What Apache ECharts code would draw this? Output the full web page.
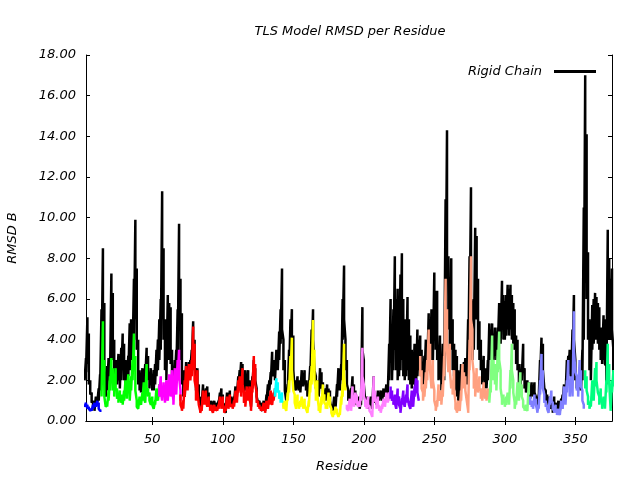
<!DOCTYPE html>
<html>
<head>
<meta charset="utf-8">
<script src="https://cdn.jsdelivr.net/npm/echarts@6/dist/echarts.min.js"></script>
<style>html,body{margin:0;padding:0;background:#fff;}#c{width:640px;height:480px;}</style>
</head>
<body>
<div id="c"></div>
<script>
// Residue axis ticks
const xTicks = [50, 100, 150, 200, 250, 300, 350];

// Rigid chain RMSD per residue (residues 2..377): upper and lower value within each residue
const rigidStart = 2;
const rigidHigh = [
  2.5, 3.1, 5.1, 4.3, 2.0, 1.4, 1.0, 0.9, 1.2, 1.1,
  1.6, 2.3, 5.5, 8.5, 5.8, 2.0, 2.7, 3.1, 2.6, 7.25,
  6.3, 4.0, 3.0, 2.6, 3.3, 3.0, 3.6, 4.3, 3.8, 3.0,
  2.8, 3.2, 4.8, 5.0, 4.5, 7.0, 9.9, 7.5, 4.0, 2.5,
  2.2, 2.6, 2.0, 2.8, 3.6, 3.2, 2.4, 2.6, 2.2, 2.5,
  2.8, 3.5, 4.0, 5.0, 6.0, 11.3, 8.5, 5.0, 4.0, 6.2,
  5.8, 5.6, 3.5, 2.7, 3.0, 3.5, 5.5, 9.7, 7.0, 5.3,
  2.5, 1.8, 2.9, 2.6, 2.9, 3.0, 3.5, 4.9, 4.0, 2.6,
  2.6, 1.8, 1.0, 1.2, 1.8, 1.5, 1.6, 1.7, 1.4, 1.0,
  1.0, 0.8, 1.0, 0.9, 0.8, 1.0, 1.4, 1.6, 1.3, 0.8,
  0.4, 1.4, 1.0, 1.5, 1.2, 1.0, 1.2, 1.7, 1.6, 2.2,
  2.5, 2.9, 2.8, 2.0, 2.5, 2.2, 2.5, 2.0, 1.0, 2.2,
  3.0, 2.6, 1.6, 1.2, 1.0, 0.9, 0.6, 1.0, 0.8, 1.3,
  1.8, 2.0, 2.4, 3.4, 3.0, 2.8, 3.5, 3.2, 4.4, 5.5,
  7.5, 4.0, 3.0, 1.5, 1.8, 3.5, 5.0, 5.5, 4.2, 2.5,
  2.0, 2.2, 2.0, 1.8, 2.5, 2.3, 2.5, 2.0, 1.8, 2.0,
  2.7, 4.5, 5.5, 4.0, 2.2, 2.0, 1.8, 2.6, 2.4, 1.9,
  1.5, 1.6, 1.8, 1.6, 1.5, 1.0, 0.8, 1.2, 1.0, 1.8,
  2.6, 2.2, 2.8, 6.0, 7.65, 4.0, 3.0, 1.5, 1.4, 1.6,
  2.2, 1.8, 1.5, 1.0, 1.2, 0.8, 1.0, 5.6, 3.0, 1.0,
  1.2, 0.8, 1.0, 1.2, 0.9, 2.2, 1.2, 1.0, 1.5, 1.3,
  1.5, 1.4, 1.6, 1.5, 1.8, 1.7, 3.8, 6.0, 4.5, 5.5,
  8.1, 6.0, 6.5, 5.5, 7.2, 8.25, 6.0, 5.0, 4.5, 6.1,
  5.0, 4.2, 3.5, 3.0, 3.8, 2.0, 4.5, 4.0, 4.2, 3.5,
  2.6, 3.2, 4.0, 3.5, 5.3, 5.0, 5.5, 4.8, 7.3, 6.4,
  6.4, 3.5, 4.2, 2.0, 3.8, 3.0, 10.9, 14.3, 8.1, 6.5,
  8.0, 5.0, 3.8, 3.5, 3.2, 2.5, 1.4, 2.8, 2.6, 2.9,
  3.1, 3.0, 5.0, 8.1, 11.5, 5.4, 6.0, 9.5, 9.1, 7.0,
  4.9, 4.0, 3.0, 3.2, 2.6, 2.4, 3.0, 4.8, 4.5, 4.8,
  4.2, 4.6, 4.4, 4.6, 5.8, 5.5, 6.9, 6.2, 5.9, 6.2,
  6.7, 6.5, 6.7, 6.2, 5.8, 5.5, 4.2, 4.0, 2.8, 2.5,
  2.8, 3.8, 2.6, 2.0, 2.0, 1.9, 1.5, 1.9, 1.7, 1.9,
  1.2, 1.0, 1.3, 3.0, 4.1, 3.8, 2.5, 1.5, 1.3, 1.2,
  0.8, 1.0, 0.6, 1.2, 0.9, 0.5, 1.0, 0.7, 1.1, 1.3,
  1.8, 1.6, 3.0, 3.2, 3.5, 3.2, 4.5, 6.2, 3.0, 2.2,
  2.0, 2.4, 2.0, 3.5, 10.5, 17.0, 14.1, 8.3, 5.0, 3.5,
  5.7, 6.0, 6.3, 6.1, 5.8, 5.6, 4.6, 4.1, 5.2, 5.0,
  2.7, 9.4, 8.0, 7.0, 7.5, 3.5
];
const rigidLow = [
  2.0, 2.4, 2.8, 1.8, 1.3, 0.9, 0.6, 0.5, 0.7, 0.9,
  1.0, 1.5, 2.5, 4.0, 2.0, 1.2, 1.5, 2.0, 2.0, 3.0,
  3.0, 2.2, 1.8, 1.8, 2.0, 1.6, 2.0, 2.5, 2.0, 1.8,
  2.0, 2.2, 2.5, 3.0, 3.0, 4.0, 5.0, 3.5, 1.8, 1.5,
  1.4, 1.8, 1.5, 2.0, 2.5, 2.0, 1.6, 1.8, 1.5, 1.5,
  1.8, 2.2, 2.5, 3.0, 3.5, 5.0, 4.0, 2.5, 2.0, 3.0,
  3.0, 2.8, 2.0, 1.5, 2.0, 2.2, 3.0, 4.5, 3.0, 1.8,
  1.2, 1.2, 2.0, 2.0, 2.2, 2.5, 2.8, 3.5, 2.5, 1.5,
  1.5, 1.2, 0.6, 0.8, 1.3, 1.0, 1.2, 1.0, 1.0, 0.7,
  0.8, 0.6, 0.8, 0.7, 0.6, 0.8, 1.0, 0.9, 0.9, 0.6,
  0.4, 1.0, 0.8, 1.0, 0.8, 0.8, 0.9, 1.2, 1.2, 1.7,
  1.8, 2.0, 2.2, 1.4, 1.5, 1.6, 1.5, 1.5, 0.7, 1.6,
  2.4, 2.0, 1.2, 0.9, 0.7, 0.6, 0.5, 0.7, 0.5, 0.9,
  1.2, 1.5, 1.8, 2.5, 2.2, 2.0, 2.5, 2.5, 3.0, 3.8,
  4.5, 2.5, 1.5, 1.0, 1.3, 2.2, 3.5, 4.0, 2.5, 1.5,
  1.5, 1.6, 1.5, 1.4, 1.8, 1.7, 1.8, 1.5, 1.2, 1.5,
  2.0, 3.0, 4.0, 2.5, 1.6, 1.4, 1.2, 1.8, 1.6, 1.5,
  1.1, 1.0, 1.2, 1.1, 1.0, 0.6, 0.5, 0.8, 0.7, 1.2,
  1.8, 1.5, 2.0, 4.0, 5.0, 2.5, 1.8, 1.0, 1.0, 1.1,
  1.6, 1.2, 1.0, 0.8, 0.9, 0.6, 0.8, 3.5, 1.8, 0.8,
  0.9, 0.6, 0.8, 0.9, 0.6, 1.5, 0.9, 0.8, 1.1, 1.0,
  1.1, 1.0, 1.2, 1.2, 1.4, 1.3, 2.0, 3.0, 2.0, 2.5,
  3.5, 2.5, 2.0, 2.2, 2.5, 3.0, 2.2, 2.0, 2.2, 2.5,
  2.0, 1.8, 1.6, 1.8, 2.0, 1.5, 2.2, 2.5, 2.8, 2.2,
  1.8, 2.0, 2.5, 2.5, 3.5, 3.0, 3.0, 3.0, 4.0, 3.5,
  3.0, 2.0, 2.5, 1.5, 2.2, 2.0, 5.0, 7.0, 4.5, 3.5,
  3.5, 2.5, 2.2, 1.5, 1.2, 1.0, 0.8, 1.8, 2.0, 2.0,
  2.0, 1.8, 2.5, 4.5, 6.0, 3.0, 3.5, 5.0, 5.0, 3.5,
  3.0, 2.5, 1.8, 2.0, 1.6, 1.6, 2.0, 3.0, 3.0, 3.5,
  3.0, 3.2, 3.0, 3.5, 4.0, 3.8, 4.5, 4.0, 4.0, 4.2,
  4.5, 4.2, 4.5, 4.0, 3.8, 3.5, 2.8, 2.5, 1.8, 1.6,
  2.0, 2.4, 1.6, 1.4, 1.4, 1.4, 1.1, 1.3, 1.2, 1.4,
  0.9, 0.7, 1.0, 2.0, 2.8, 2.5, 1.6, 1.0, 0.9, 0.8,
  0.6, 0.7, 0.4, 0.8, 0.6, 0.4, 0.7, 0.5, 0.8, 0.9,
  1.2, 1.1, 2.0, 2.2, 2.3, 2.0, 2.8, 4.0, 2.0, 1.6,
  1.5, 1.6, 1.5, 2.0, 4.0, 8.0, 6.0, 4.0, 2.5, 2.0,
  3.5, 3.8, 4.0, 4.0, 3.8, 3.5, 3.0, 2.8, 3.0, 2.8,
  1.8, 4.0, 4.0, 4.0, 4.5, 2.5
];

// TLS groups: start residue, upper and lower value within each residue
const blueStart = 2;
const blueHigh = [0.8, 0.9, 0.8, 0.7, 0.6, 0.6, 0.8, 0.9, 0.8, 1.0, 0.9, 0.6, 0.5];
const blueLow  = [0.7, 0.7, 0.6, 0.6, 0.5, 0.5, 0.6, 0.7, 0.7, 0.8, 0.6, 0.5, 0.5];
const greenStart = 14;
const greenHigh = [1.5, 4.9, 3.0, 1.2, 0.8, 1.5, 2.2, 3.1, 2.6, 1.8, 2.6, 1.6, 1.2, 1.5, 1.3, 1.0, 1.5, 2.0, 1.6, 2.3, 1.4, 2.2, 3.0, 4.3, 3.2, 1.0, 0.7, 1.2, 1.0, 1.4, 1.9, 1.2, 2.8, 1.6, 1.4, 1.0, 1.2, 0.8, 1.0, 1.6, 1.3, 1.8];
const greenLow  = [1.2, 2.5, 1.2, 0.7, 0.7, 1.0, 1.5, 2.0, 1.5, 1.2, 1.5, 1.1, 0.9, 1.0, 0.9, 0.8, 1.0, 1.3, 1.1, 1.5, 1.0, 1.5, 2.0, 2.5, 1.5, 0.7, 0.6, 0.8, 0.8, 1.0, 1.2, 0.9, 1.5, 1.2, 1.0, 0.8, 0.8, 0.6, 0.8, 1.0, 1.0, 1.2];
const magentaStart = 55;
const magentaHigh = [1.8, 2.2, 1.5, 1.9, 1.2, 2.0, 1.4, 2.3, 1.7, 2.5, 1.0, 2.6, 1.8, 3.0, 3.5, 1.5];
const magentaLow  = [1.2, 1.5, 1.0, 1.3, 0.9, 1.4, 1.0, 1.6, 1.2, 1.6, 0.8, 1.8, 1.3, 2.0, 2.2, 1.0];
const redStart = 70;
const redHigh = [
  1.3, 0.6, 1.0, 2.0, 2.7, 2.2, 2.8, 2.6, 3.0, 4.65,
  3.8, 1.6, 2.5, 1.5, 0.5, 0.7, 1.5, 1.2, 1.5, 1.0,
  1.2, 0.7, 0.8, 0.6, 0.8, 0.7, 0.6, 0.8, 1.2, 0.9,
  1.2, 0.6, 0.7, 1.2, 0.9, 1.3, 0.9, 0.8, 1.0, 1.5,
  1.3, 2.0, 2.2, 1.8, 2.6, 1.4, 1.0, 1.7, 1.5, 1.7,
  0.7, 2.0, 3.2, 2.8, 1.4, 1.0, 0.8, 0.7, 0.6, 0.9,
  0.5, 1.0, 0.8, 1.2, 1.5, 1.0, 1.4, 1.6
];
const redLow = [
  0.8, 0.5, 0.6, 1.2, 1.8, 1.5, 2.0, 2.0, 2.2, 2.8,
  2.0, 1.0, 1.5, 0.8, 0.4, 0.5, 1.0, 0.8, 1.0, 0.7,
  0.8, 0.5, 0.6, 0.4, 0.6, 0.5, 0.5, 0.6, 0.8, 0.6,
  0.8, 0.4, 0.5, 0.8, 0.6, 0.9, 0.7, 0.6, 0.7, 1.0,
  0.9, 1.4, 1.5, 1.2, 1.8, 0.9, 0.7, 1.1, 1.0, 1.1,
  0.5, 1.4, 2.2, 1.8, 0.9, 0.7, 0.6, 0.5, 0.5, 0.6,
  0.4, 0.7, 0.6, 0.8, 1.0, 0.8, 1.0, 1.2
];
const cyanStart = 137;
const cyanHigh = [1.6, 2.1, 1.9, 1.5, 1.2, 1.4, 0.9];
const cyanLow  = [1.2, 1.5, 1.4, 1.1, 0.9, 1.0, 0.7];
const yellowStart = 143;
const yellowHigh = [0.9, 1.0, 0.7, 1.4, 2.0, 3.2, 4.1, 2.5, 1.3, 0.9, 1.3, 0.8, 1.0, 1.2, 0.9, 1.1, 0.8, 0.6, 1.0, 2.0, 2.7, 4.97, 3.5, 1.5, 2.0, 0.7, 0.6, 1.2, 1.8, 1.3, 0.8, 0.9, 1.4, 1.2, 0.6, 0.2, 0.5, 0.7, 0.6, 0.2, 0.4, 1.2, 1.8, 3.8, 2.2];
const yellowLow  = [0.6, 0.7, 0.5, 1.0, 1.4, 2.0, 2.5, 1.5, 0.9, 0.6, 0.9, 0.6, 0.7, 0.8, 0.6, 0.8, 0.6, 0.4, 0.7, 1.4, 1.8, 2.8, 2.0, 1.0, 1.3, 0.5, 0.4, 0.8, 1.2, 0.9, 0.6, 0.6, 1.0, 0.8, 0.4, 0.2, 0.3, 0.5, 0.4, 0.2, 0.3, 0.8, 1.2, 2.2, 1.5];
const violetStart = 188;
const violetHigh = [0.8, 0.6, 1.1, 0.7, 1.7, 1.0, 1.4, 1.3, 0.9, 1.0, 1.4, 3.6, 1.8, 1.0, 0.8, 1.2, 0.7, 0.5, 0.2, 2.2, 1.5, 0.9, 1.2, 0.7, 0.6, 0.8, 1.1, 1.0, 1.4, 1.2, 1.4];
const violetLow  = [0.6, 0.5, 0.8, 0.5, 1.1, 0.7, 1.0, 0.9, 0.7, 0.7, 1.0, 2.2, 1.2, 0.7, 0.6, 0.8, 0.5, 0.4, 0.2, 1.4, 1.0, 0.6, 0.8, 0.5, 0.4, 0.6, 0.8, 0.7, 1.0, 0.9, 1.0];
const purpleStart = 219;
const purpleHigh = [1.7, 1.5, 1.1, 1.3, 0.9, 1.6, 1.2, 0.6, 1.1, 1.5, 1.0, 1.3, 1.8, 1.2, 0.8, 1.5, 1.0, 1.7, 2.1, 2.0, 1.4];
const purpleLow  = [1.1, 1.0, 0.8, 0.9, 0.6, 1.1, 0.8, 0.4, 0.8, 1.0, 0.7, 0.9, 1.2, 0.8, 0.6, 1.0, 0.7, 1.2, 1.5, 1.4, 1.0];
const salmonStart = 240;
const salmonHigh = [3.2, 2.5, 1.4, 1.8, 2.4, 3.0, 4.5, 3.8, 2.5, 3.0, 1.5, 0.7, 1.0, 1.8, 1.5, 1.2, 1.8, 3.2, 7.0, 5.5, 3.5, 3.8, 2.5, 2.0, 2.5, 0.9, 0.5, 1.0, 0.7, 1.5, 2.8, 2.4, 2.2, 1.5, 0.5, 4.0, 8.1, 4.5, 2.3, 1.8, 2.6, 2.0, 2.2, 1.6, 1.4, 1.9, 1.6, 1.4, 1.6];
const salmonLow  = [2.2, 1.6, 1.0, 1.2, 1.6, 2.0, 3.0, 2.5, 1.6, 2.0, 1.0, 0.5, 0.7, 1.2, 1.0, 0.8, 1.2, 2.2, 4.5, 3.5, 2.4, 2.5, 1.6, 1.3, 1.6, 0.6, 0.4, 0.7, 0.5, 1.0, 1.8, 1.6, 1.5, 1.0, 0.4, 2.5, 5.0, 3.0, 1.6, 1.2, 1.8, 1.4, 1.5, 1.1, 1.0, 1.3, 1.1, 1.0, 1.1];
const lightGreenStart = 289;
const lightGreenHigh = [1.2, 2.0, 4.2, 3.0, 2.8, 2.2, 3.5, 4.4, 2.5, 1.1, 1.3, 1.0, 1.2, 1.4, 1.2, 2.5, 3.8, 2.0, 0.9, 1.2, 1.9, 1.5, 2.4, 1.8, 1.0, 0.6, 0.8, 0.6, 1.9];
const lightGreenLow  = [0.9, 1.4, 2.8, 2.0, 1.8, 1.5, 2.4, 3.0, 1.6, 0.8, 0.9, 0.7, 0.8, 1.0, 0.8, 1.6, 2.5, 1.4, 0.6, 0.8, 1.3, 1.0, 1.6, 1.2, 0.7, 0.5, 0.6, 0.5, 1.3];
const slateStart = 318;
const slateHigh = [1.2, 1.0, 0.8, 1.3, 1.1, 0.5, 0.8, 2.0, 3.3, 2.5, 1.3, 1.0, 0.8, 0.6, 1.2, 1.5, 0.9, 0.5, 0.8, 0.4, 0.6, 0.4, 1.0, 0.8, 1.7, 1.2, 2.0, 3.0, 1.8, 2.2, 1.8, 5.4, 3.5, 2.2, 1.8, 3.0, 2.5, 1.5, 0.8];
const slateLow  = [0.8, 0.7, 0.6, 0.9, 0.8, 0.4, 0.6, 1.3, 2.2, 1.6, 0.9, 0.7, 0.6, 0.4, 0.8, 1.0, 0.6, 0.4, 0.6, 0.3, 0.4, 0.3, 0.7, 0.6, 1.1, 0.8, 1.4, 2.0, 1.2, 1.5, 1.2, 3.5, 2.4, 1.5, 1.2, 2.0, 1.7, 1.0, 0.6];
const springStart = 357;
const springHigh = [2.5, 2.2, 1.2, 0.9, 1.0, 2.0, 1.5, 2.6, 2.9, 2.0, 1.2, 1.6, 0.9, 1.2, 0.9, 2.0, 3.8, 2.8, 0.6, 2.0, 2.5];
const springLow  = [1.6, 1.5, 0.8, 0.6, 0.7, 1.4, 1.0, 1.7, 2.0, 1.4, 0.8, 1.1, 0.6, 0.8, 0.6, 1.4, 2.5, 1.9, 0.5, 1.4, 1.7];

function rangePairs(start, hi, lo) {
  const out = [];
  hi.forEach((v, i) => { out.push([start + i, v]); out.push([start + i, lo[i]]); });
  return out;
}

const groups = [
  ['g1', '#0000ff', blueStart, blueHigh, blueLow],
  ['g2', '#00ff00', greenStart, greenHigh, greenLow],
  ['g3', '#ff00ff', magentaStart, magentaHigh, magentaLow],
  ['g4', '#ff0000', redStart, redHigh, redLow],
  ['g5', '#00ffff', cyanStart, cyanHigh, cyanLow],
  ['g6', '#ffff00', yellowStart, yellowHigh, yellowLow],
  ['g7', '#ff80ff', violetStart, violetHigh, violetLow],
  ['g8', '#8000ff', purpleStart, purpleHigh, purpleLow],
  ['g9', '#ffa080', salmonStart, salmonHigh, salmonLow],
  ['g10', '#80ff80', lightGreenStart, lightGreenHigh, lightGreenLow],
  ['g11', '#8080ff', slateStart, slateHigh, slateLow],
  ['g12', '#00ff80', springStart, springHigh, springLow]
];

const LW = 2.5;
const series = [{
  name: 'Rigid Chain', type: 'line', symbol: 'none', showSymbol: false,
  data: rangePairs(rigidStart, rigidHigh, rigidLow),
  lineStyle: { color: '#000000', width: LW }, itemStyle: { color: '#000000' },
  animation: false, silent: true
}];
groups.forEach(g => series.push({
  name: g[0], type: 'line', symbol: 'none', showSymbol: false,
  data: rangePairs(g[2], g[3], g[4]),
  lineStyle: { color: g[1], width: LW }, itemStyle: { color: g[1] },
  animation: false, silent: true
}));

const axisLineStyle = { show: true, lineStyle: { color: '#000', width: 1 } };
const txt = { fontFamily: 'DejaVu Sans', fontStyle: 'italic', fontSize: 13, color: '#000' };

const chart = echarts.init(document.getElementById('c'), null, { renderer: 'canvas' });
chart.setOption({
  backgroundColor: '#fff',
  animation: false,
  title: {
    text: 'TLS Model RMSD per Residue', left: 345, top: 20, textAlign: 'center',
    textStyle: Object.assign({ fontWeight: 'normal' }, txt)
  },
  legend: {
    data: [{ name: 'Rigid Chain', icon: 'rect' }], right: 39, top: 60, align: 'right',
    itemWidth: 42, itemHeight: 3, itemGap: 0,
    textStyle: Object.assign({ padding: [0, 7, 0, 0] }, txt)
  },
  grid: { left: 86, right: 28, top: 55, bottom: 59, containLabel: false },
  xAxis: [{
    type: 'value', min: 3, max: 376, position: 'bottom',
    axisLine: axisLineStyle,
    axisTick: { show: true, inside: true, length: 4, customValues: xTicks, lineStyle: { color: '#000' } },
    axisLabel: Object.assign({ customValues: xTicks, margin: 12 }, txt),
    splitLine: { show: false }
  }, {
    type: 'value', min: 3, max: 376, position: 'top',
    axisLine: axisLineStyle,
    axisTick: { show: true, inside: true, length: 4, customValues: xTicks, lineStyle: { color: '#000' } },
    axisLabel: { show: false },
    splitLine: { show: false }
  }],
  yAxis: [{
    type: 'value', min: 0, max: 18, interval: 2, position: 'left',
    axisLine: axisLineStyle,
    axisTick: { show: true, inside: true, length: 4, lineStyle: { color: '#000' } },
    axisLabel: Object.assign({ margin: 10, formatter: v => v.toFixed(2) }, txt),
    splitLine: { show: false }
  }, {
    type: 'value', min: 0, max: 18, interval: 2, position: 'right',
    axisLine: axisLineStyle,
    axisTick: { show: true, inside: true, length: 4, lineStyle: { color: '#000' } },
    axisLabel: { show: false },
    splitLine: { show: false }
  }],
  graphic: [{
    type: 'text', x: 342, y: 467,
    style: { text: 'Residue', align: 'center', verticalAlign: 'middle', fill: '#000',
      font: 'italic 13px "DejaVu Sans"' }
  }, {
    type: 'text', x: 13, y: 238, rotation: Math.PI / 2,
    style: { text: 'RMSD B', align: 'center', verticalAlign: 'middle', fill: '#000',
      font: 'italic 13px "DejaVu Sans"' }
  }],
  series: series
});
</script>
</body>
</html>
